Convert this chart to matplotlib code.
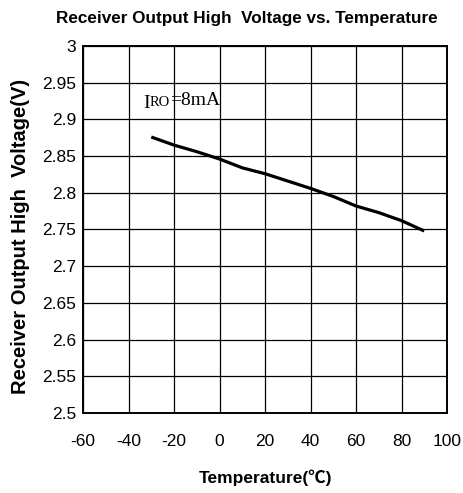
import matplotlib
matplotlib.use("Agg")
import matplotlib.pyplot as plt

plt.rcParams["axes.unicode_minus"] = False

# curve
temperature = [-30, -20, -10, 0, 10, 20, 30, 40, 50, 60, 70, 80, 90]
voltage = [2.876, 2.865, 2.856, 2.846, 2.834, 2.826, 2.816, 2.806, 2.795, 2.782, 2.773, 2.762, 2.748]

x_ticks = [-60, -40, -20, 0, 20, 40, 60, 80, 100]
y_ticks = [2.5, 2.55, 2.6, 2.65, 2.7, 2.75, 2.8, 2.85, 2.9, 2.95, 3.0]
y_tick_labels = ["2.5", "2.55", "2.6", "2.65", "2.7", "2.75", "2.8", "2.85", "2.9", "2.95", "3"]

sans = "Liberation Sans"

fig = plt.figure(figsize=(4.64, 4.93), dpi=100)
ax = fig.add_axes([0.1789, 0.1623, 0.7845, 0.7444])

ax.plot(temperature, voltage, color="black", linewidth=2.3, solid_capstyle="butt")

ax.set_xlim(-60, 100)
ax.set_ylim(2.5, 3.0)
ax.set_xticks(x_ticks)
ax.set_yticks(y_ticks)
ax.set_yticklabels(y_tick_labels)
ax.tick_params(length=0, labelsize=12.5)
ax.tick_params(axis="x", pad=15)
ax.tick_params(axis="y", pad=5)
for lab in ax.get_xticklabels() + ax.get_yticklabels():
    lab.set_family(sans)

ax.grid(True, color="black", linewidth=0.9)
ax.set_axisbelow(True)
for sp in ax.spines.values():
    sp.set_linewidth(1.4)
    sp.set_color("black")

fig.text(0.532, 0.963, "Receiver Output High  Voltage vs. Temperature",
         ha="center", va="center", fontsize=12.3, fontweight="bold", family=sans)
fig.text(0.572, 0.030, "Temperature(℃)", ha="center", va="center",
         fontsize=12.5, fontweight="bold", family=[sans, "Noto Sans CJK SC"])
fig.text(0.045, 0.521, "Receiver Output High  Voltage(V)", ha="center", va="center",
         rotation=90, fontsize=14.5, fontweight="bold", family=sans)

# I_RO label, small caps "RO" sitting on the baseline
t1 = ax.text(-33.6, 2.922, "I", fontsize=14, family="Liberation Serif",
             va="center", ha="left")
t2 = ax.annotate("RO", xy=(1, 0.17), xycoords=t1, va="bottom", ha="left",
                 fontsize=10.5, family="Liberation Serif")
ax.annotate("=8mA", xy=(1, 0.0), xycoords=t2, va="bottom", ha="left",
            fontsize=14, family="Liberation Serif")

fig.savefig("out.png", dpi=100)
